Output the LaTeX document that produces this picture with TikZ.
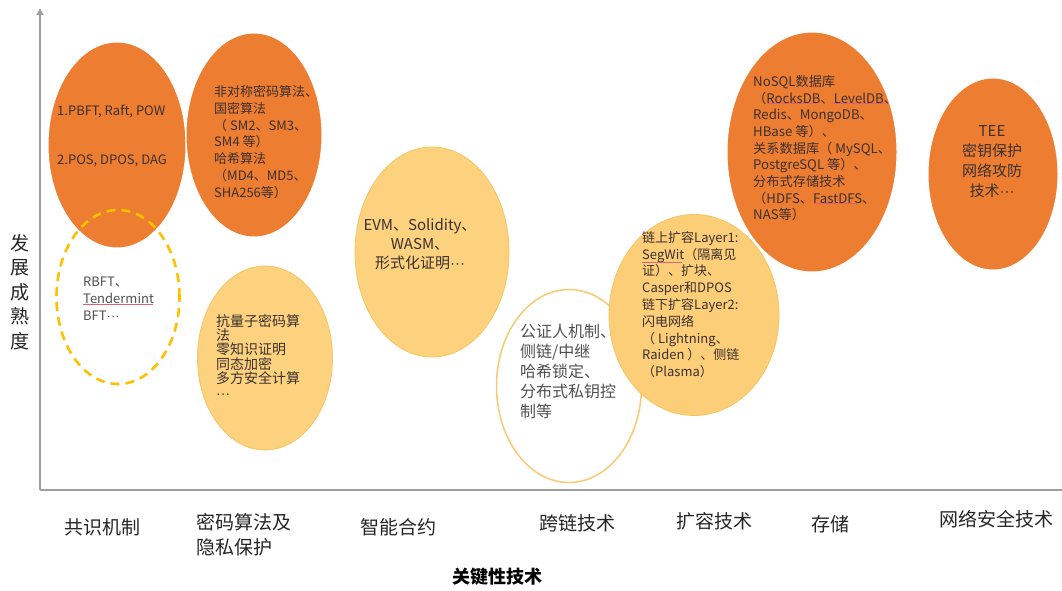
\documentclass[tikz,border=0pt]{standalone}
\usepackage{fontspec}
\setmainfont{Noto Sans CJK SC}
\newfontfamily\dotfont{Liberation Sans}
\newcommand\mydots{{\dotfont ···}}
\usetikzlibrary{shapes.geometric,arrows.meta}
\definecolor{orng}{HTML}{ED7D31}
\definecolor{lite}{HTML}{FCD27E}
\definecolor{liteedge}{HTML}{F7C463}
\definecolor{gold}{HTML}{FFC000}
\definecolor{axisgray}{HTML}{A0A0A0}
\definecolor{txtdark}{HTML}{3C3030}
\definecolor{txtgray}{HTML}{505050}
\definecolor{squig}{HTML}{E0607A}
\begin{document}
\begin{tikzpicture}[x=1pt,y=-1pt,
  blob/.style={ellipse, inner sep=0pt},
  hot/.style={blob, fill=orng, draw=white, line width=1pt},
  warm/.style={blob, fill=lite, draw=liteedge, line width=0.8pt},
  txt/.style={inner sep=0pt, text=txtdark, align=left, anchor=north west},
  cat/.style={inner sep=0pt, text=black!85, font=\fontsize{19}{25}\selectfont},
  axisline/.style={draw=axisgray, line width=1.8pt},
  squiggle/.style={draw=squig, line width=0.6pt}]
\useasboundingbox (0,0) rectangle (1062,590);
\fill[white] (0,0) rectangle (1062,590);

% axes
\coordinate (O) at (40,490);
\coordinate (ytop) at (40,8);
\coordinate (xend) at (1062,490);
\draw[axisline, -{Triangle[width=7pt,length=7pt]}] (O) -- (ytop);
\draw[axisline] (O) -- (xend);

% ellipses
\node[hot, minimum width=138pt, minimum height=206pt] (cons) at (117,145) {};
\node[blob, draw=gold, line width=2.6pt, dash pattern=on 9pt off 6pt, minimum width=123pt, minimum height=174pt] (consB) at (118,297) {};
\node[hot, minimum width=136pt, minimum height=204pt] (crypto) at (254,135) {};
\node[warm, minimum width=135pt, minimum height=184pt] (quant) at (265,358) {};
\node[warm, minimum width=154pt, minimum height=210pt] (evm) at (432,252) {};
\node[blob, fill=white, draw=liteedge!90, line width=1.5pt, minimum width=145pt, minimum height=193pt] (cross) at (569,386) {};
\node[hot, minimum width=170pt, minimum height=240pt] (store) at (812,152) {};
\node[warm, fill=lite!95!orange, minimum width=170pt, minimum height=201pt] (scale) at (694,315) {};
\node[hot, minimum width=130pt, minimum height=192pt] (tee) at (993,174) {};

% texts
\node[txt, font=\fontsize{13}{17}\selectfont] (t1a) at (57,105) {1.PBFT, Raft, POW};
\node[txt, font=\fontsize{13}{17}\selectfont] (t1b) at (57,155) {2.POS, DPOS, DAG};
\node[txt, text=txtgray, font=\fontsize{13}{16.7}\selectfont] (t1c) at (83,277) {RBFT、\\Tendermint\\BFT\mydots};
\node[txt, font=\fontsize{13}{16.9}\selectfont] (t2) at (214,85) {非对称密码算法、\\国密算法\\（ SM2、SM3、\\SM4 等）\\哈希算法\\（MD4、MD5、\\SHA256等）};
\node[txt, font=\fontsize{14}{14.4}\selectfont] (t2b) at (216,314) {抗量子密码算\\法\\零知识证明\\同态加密\\多方安全计算\\\mydots};
\node[txt, align=center, anchor=north, font=\fontsize{15}{19}\selectfont] (t3) at (420,218) {EVM、Solidity、\\WASM、\\形式化证明\mydots};
\node[txt, text=txtgray, font=\fontsize{16}{20}\selectfont] (t4) at (520,324) {公证人机制、\\侧链/中继\\哈希锁定、\\分布式私钥控\\制等};
\node[txt, font=\fontsize{13}{16.8}\selectfont] (t5) at (642,231) {链上扩容Layer1:\\SegWit（隔离见\\证）、扩块、\\Casper和DPOS\\链下扩容Layer2:\\闪电网络\\（ Lightning、\\Raiden ）、侧链\\（Plasma）};
\node[txt, font=\fontsize{13.2}{16.7}\selectfont] (t6) at (753,75) {NoSQL数据库\\（RocksDB、LevelDB、\\Redis、MongoDB、\\HBase 等）、\\关系数据库（ MySQL、\\PostgreSQL 等）、\\分布式存储技术\\（HDFS、FastDFS、\\NAS等）};
\node[txt, align=center, anchor=north, font=\fontsize{15}{20}\selectfont] (t7) at (992,125) {TEE\\密钥保护\\网络攻防\\技术\mydots};

% spell-check squiggles
\draw[squiggle] (83,304) -- (153,304);
\draw[squiggle] (642,262) -- (682,262);
\draw[squiggle] (767,103) -- (817,103);
\draw[squiggle] (832,103) -- (885,103);
\draw[squiggle] (814,203) -- (857,203);

% category labels
\node[cat] (c1) at (102,527) {共识机制};
\node[cat, align=left, anchor=north west] (c2) at (196,513) {密码算法及\\隐私保护};
\node[cat] (c3) at (398,527) {智能合约};
\node[cat] (c4) at (577,523) {跨链技术};
\node[cat] (c5) at (714,521) {扩容技术};
\node[cat] (c6) at (830,524) {存储};
\node[cat] (c7) at (996,519) {网络安全技术};

% axis titles
\node[cat, align=center, font=\fontsize{19}{24.5}\selectfont] (ylab) at (20,292) {发\\展\\成\\熟\\度};
\node[inner sep=0pt, text=black, font=\fontsize{18}{22}\selectfont\bfseries] (xlab) at (497,577) {关键性技术};
\end{tikzpicture}
\end{document}
